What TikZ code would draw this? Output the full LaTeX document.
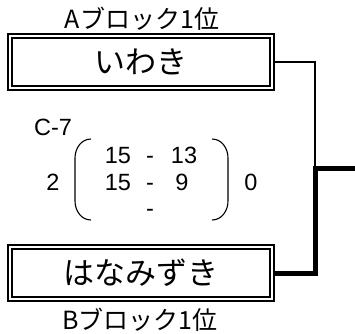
\documentclass[tikz,border=0pt]{standalone}
\usepackage{fontspec}
\setmainfont{Liberation Sans}
\newfontfamily\jpfont{Noto Sans CJK JP}
\usetikzlibrary{positioning, calc}

\begin{document}
\begin{tikzpicture}[
    x=1pt, y=-1pt,
    team/.style={draw, double, line width=1.3pt, double distance=2.6pt,
        minimum width=262pt, minimum height=52pt, inner sep=0pt,
        font=\jpfont\fontsize{31}{31}\selectfont},
    block/.style={inner sep=0pt, font=\jpfont\fontsize{25}{25}\selectfont},
    score/.style={inner sep=0pt, anchor=base, font=\fontsize{23.5}{23.5}\selectfont},
    win/.style={line width=5pt},
    lose/.style={line width=1.3pt},
    paren/.style={line width=1.1pt}
]
\useasboundingbox (0,0) rectangle (355,333);

% === TEAMS ===
\node[team] (teamA) at (141,62) {いわき};
\node[team] (teamB) at (141,273) {はなみずき};

\node[block] (blockA) at (142,19) {Aブロック1位};
\node[block] (blockB) at (140,320) {Bブロック1位};

% === SCORE ===
\node[score] (match) at (53,135) {C-7};
\node[score] (setsA) at (53,190) {2};
\node[score] (setsB) at (251,190) {0};

\node[score] (r1a) at (118,163) {15};
\node[score] (r1d) at (150,163) {-};
\node[score] (r1b) at (184,163) {13};
\node[score] (r2a) at (118,190) {15};
\node[score] (r2d) at (150,190) {-};
\node[score] (r2b) at (182,190) {9};
\node[score] (r3d) at (150,216) {-};

% brackets
\draw[paren] (91,139) to[out=180,in=90] (75,158) -- (75,201) to[out=-90,in=180] (91,220);
\draw[paren] (212,139) to[out=0,in=90] (228,158) -- (228,201) to[out=-90,in=0] (212,220);

% === BRACKET LINES ===
\coordinate (top) at (315,62);
\coordinate (mid) at (315,168);
\coordinate (winner) at (355,168);
\coordinate (low) at (315,273);

\draw[lose] (teamA.east) -- (top) -- (mid);
\draw[win] (teamB.east) -- (low) -- (mid) -- (winner);

\end{tikzpicture}
\end{document}
